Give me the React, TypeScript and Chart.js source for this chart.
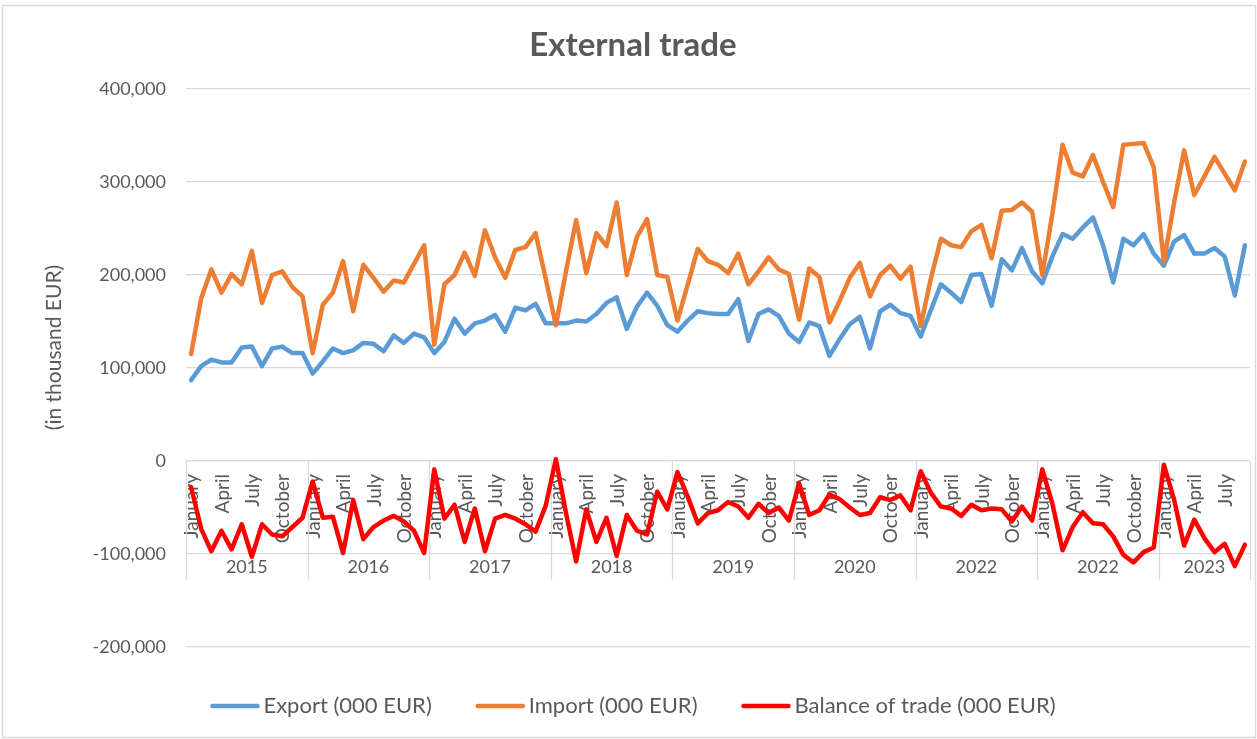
import React, { useEffect, useRef } from "react";
import { Chart, registerables } from "chart.js";

Chart.register(...registerables);

// ---- Data (thousand EUR) ----
const years = ["2015", "2016", "2017", "2018", "2019", "2020", "2022", "2022", "2023"];
const monthsInYear = [12, 12, 12, 12, 12, 12, 12, 12, 9];
const monthNames = [
  "January", "February", "March", "April", "May", "June",
  "July", "August", "September", "October", "November", "December",
];
const shownMonths = ["January", "April", "July", "October"];

const exportValues = [
  87000, 102000, 109000, 106000, 106000, 122000, 123000, 102000, 121000, 123000, 116000, 116000,
  94000, 107000, 121000, 116000, 119000, 127000, 126000, 118000, 135000, 127000, 137000, 133000,
  116000, 128000, 153000, 137000, 148000, 151000, 157000, 139000, 165000, 162000, 169000, 148000,
  148000, 148000, 151000, 150000, 158000, 170000, 176000, 142000, 166000, 181000, 167000, 146000,
  139000, 151000, 161000, 159000, 158000, 158000, 174000, 129000, 158000, 163000, 156000, 137000,
  128000, 149000, 145000, 113000, 131000, 147000, 155000, 121000, 161000, 168000, 159000, 156000,
  134000, 162000, 190000, 181000, 171000, 200000, 201000, 167000, 217000, 205000, 229000, 204000,
  191000, 220000, 244000, 239000, 251000, 262000, 232000, 192000, 239000, 232000, 244000, 223000,
  210000, 236000, 243000, 223000, 223000, 229000, 220000, 178000, 232000,
];

const importValues = [
  115000, 175000, 206000, 181000, 201000, 190000, 226000, 170000, 200000, 204000, 187000, 177000,
  116000, 168000, 181000, 215000, 161000, 211000, 197000, 182000, 194000, 192000, 212000, 232000,
  125000, 190000, 200000, 224000, 199000, 248000, 219000, 197000, 227000, 230000, 245000, 196000,
  146000, 204000, 259000, 202000, 245000, 231000, 278000, 200000, 241000, 260000, 200000, 198000,
  151000, 189000, 228000, 215000, 211000, 202000, 223000, 190000, 204000, 219000, 206000, 201000,
  152000, 207000, 198000, 149000, 172000, 197000, 213000, 177000, 200000, 210000, 196000, 209000,
  145000, 196000, 239000, 232000, 230000, 247000, 254000, 218000, 269000, 270000, 278000, 268000,
  200000, 266000, 340000, 310000, 306000, 329000, 300000, 273000, 340000, 341000, 342000, 316000,
  214000, 277000, 334000, 286000, 306000, 327000, 309000, 291000, 322000,
];

const balanceValues = [
  -28000, -73000, -97000, -75000, -95000, -68000, -103000, -68000, -79000, -81000, -71000, -61000,
  -22000, -61000, -60000, -99000, -42000, -84000, -71000, -64000, -59000, -65000, -75000, -99000,
  -9000, -62000, -47000, -87000, -51000, -97000, -62000, -58000, -62000, -68000, -76000, -48000,
  2000, -56000, -108000, -52000, -87000, -61000, -102000, -58000, -75000, -79000, -33000, -52000,
  -12000, -38000, -67000, -56000, -53000, -44000, -49000, -61000, -46000, -56000, -50000, -64000,
  -24000, -58000, -53000, -36000, -41000, -50000, -58000, -56000, -39000, -42000, -37000, -53000,
  -11000, -34000, -49000, -51000, -59000, -47000, -53000, -51000, -52000, -65000, -49000, -64000,
  -9000, -46000, -96000, -71000, -55000, -67000, -68000, -81000, -101000, -109000, -98000, -93000,
  -4000, -41000, -91000, -63000, -83000, -98000, -89000, -113000, -90000,
];

const seriesLabels = ["Export (000 EUR)", "Import (000 EUR)", "Balance of trade (000 EUR)"];
const seriesColors = ["#5B9BD5", "#ED7D31", "#FF0000"];

const chartTitle = "External trade";
const yAxisTitle = "(in thousand EUR)";
const yMin = -200000;
const yMax = 400000;
const yStep = 100000;

// ---- Styles ----
const FONT = "Lato, 'Open Sans', sans-serif";
const TEXT = "#595959";
const GRID = "#d9d9d9";

// category label parts
const categoryMonths: string[] = [];
const categoryYears: string[] = [];
years.forEach((y, k) => {
  for (let m = 0; m < monthsInYear[k]; m++) {
    categoryMonths.push(monthNames[m]);
    categoryYears.push(y);
  }
});
const categories = categoryMonths.map((m, i) => `${m} ${categoryYears[i]}`);

const frame = {
  id: "frame",
  beforeDraw(chart: any) {
    const { ctx, width, height } = chart;
    ctx.save();
    ctx.fillStyle = "#ffffff";
    ctx.fillRect(0, 0, width, height);
    ctx.strokeStyle = GRID;
    ctx.lineWidth = 1.5;
    ctx.strokeRect(2.5, 5.5, width - 4, height - 7);
    ctx.restore();
  },
};

const categoryAxis = {
  id: "categoryAxis",
  beforeDatasetsDraw(chart: any) {
    const { ctx } = chart;
    const xs = chart.scales.x;
    const ys = chart.scales.y;
    const y0 = ys.getPixelForValue(0);
    const half = (xs.getPixelForValue(1) - xs.getPixelForValue(0)) / 2;
    ctx.save();
    ctx.fillStyle = TEXT;
    ctx.font = `19px ${FONT}`;
    ctx.textAlign = "right";
    ctx.textBaseline = "middle";
    categoryMonths.forEach((m, i) => {
      if (!shownMonths.includes(m)) return;
      const x = xs.getPixelForValue(i);
      ctx.save();
      ctx.translate(x + 1, y0 + 13);
      ctx.rotate(-Math.PI / 2);
      ctx.fillText(m, 0, 0);
      ctx.restore();
    });

    const edges: number[] = [xs.getPixelForValue(0) - half];
    let start = 0;
    ctx.textAlign = "center";
    ctx.font = `18px ${FONT}`;
    years.forEach((yr, k) => {
      const end = start + monthsInYear[k] - 1;
      const xl = xs.getPixelForValue(start) - half;
      const xr = xs.getPixelForValue(end) + half;
      edges.push(xr);
      ctx.fillText(yr, (xl + xr) / 2, y0 + 106);
      start = end + 1;
    });

    ctx.strokeStyle = GRID;
    ctx.lineWidth = 1.3;
    edges.forEach((x) => {
      const px = Math.round(x) + 0.5;
      ctx.beginPath();
      ctx.moveTo(px, y0);
      ctx.lineTo(px, y0 + 119);
      ctx.stroke();
    });
    ctx.restore();
  },
};

const decorations = {
  id: "decorations",
  afterDraw(chart: any) {
    const { ctx } = chart;
    ctx.save();
    // title
    ctx.fillStyle = TEXT;
    ctx.font = `bold 33px ${FONT}`;
    ctx.textAlign = "center";
    ctx.textBaseline = "alphabetic";
    ctx.fillText(chartTitle, 633, 56);

    // y-axis title
    ctx.save();
    ctx.translate(54, 347.5);
    ctx.rotate(-Math.PI / 2);
    ctx.font = `21px ${FONT}`;
    ctx.textBaseline = "middle";
    ctx.fillText(yAxisTitle, 0, 0);
    ctx.restore();

    // legend
    ctx.font = `22px ${FONT}`;
    const sample = 49;
    const gapText = 4;
    const gapItem = 44;
    const items = chart.data.datasets.map((ds: any) => ({
      label: ds.label,
      color: ds.borderColor,
      w: sample + gapText + ctx.measureText(ds.label).width,
    }));
    const total = items.reduce((s: number, it: any) => s + it.w, 0) + gapItem * (items.length - 1);
    let x = 633 - total / 2;
    ctx.textAlign = "left";
    ctx.textBaseline = "alphabetic";
    ctx.lineCap = "round";
    items.forEach((it: any) => {
      ctx.strokeStyle = it.color;
      ctx.lineWidth = 4.5;
      ctx.beginPath();
      ctx.moveTo(x + 2, 706);
      ctx.lineTo(x + sample - 2, 706);
      ctx.stroke();
      ctx.fillStyle = TEXT;
      ctx.fillText(it.label, x + sample + gapText, 713);
      x += it.w + gapItem;
    });
    ctx.restore();
  },
};

export default function App() {
  const canvasRef = useRef<HTMLCanvasElement | null>(null);

  useEffect(() => {
    document.body.style.margin = "0";
    const canvas = canvasRef.current;
    if (!canvas) return;
    const datasets = [exportValues, importValues, balanceValues].map((values, k) => ({
      label: seriesLabels[k],
      data: values,
      borderColor: seriesColors[k],
      backgroundColor: seriesColors[k],
      borderWidth: 4.5,
      pointRadius: 0,
      tension: 0,
      fill: false,
      borderJoinStyle: "round" as const,
      borderCapStyle: "round" as const,
      order: 3 - k,
    }));
    const chart = new Chart(canvas, {
      type: "line",
      data: { labels: categories, datasets },
      options: {
        animation: false,
        responsive: false,
        devicePixelRatio: 1,
        layout: { padding: { top: 89, right: 7, bottom: 92, left: 0 } },
        plugins: {
          legend: { display: false },
          title: { display: false },
          tooltip: { enabled: false },
        },
        scales: {
          x: { type: "category", display: false, offset: true },
          y: {
            min: yMin,
            max: yMax,
            ticks: {
              stepSize: yStep,
              color: TEXT,
              font: { family: FONT, size: 18 },
              padding: 20,
              callback: (v: any) => Number(v).toLocaleString("en-US"),
            },
            grid: { color: GRID, lineWidth: 1.3, drawTicks: false },
            border: { display: false },
            afterFit: (scale: any) => {
              scale.width = 186;
            },
          },
        },
      },
      plugins: [frame, categoryAxis, decorations],
    });
    return () => chart.destroy();
  }, []);

  return (
    <div style={{ width: 1257, height: 739 }}>
      <canvas ref={canvasRef} width={1257} height={739} style={{ display: "block" }} />
    </div>
  );
}
